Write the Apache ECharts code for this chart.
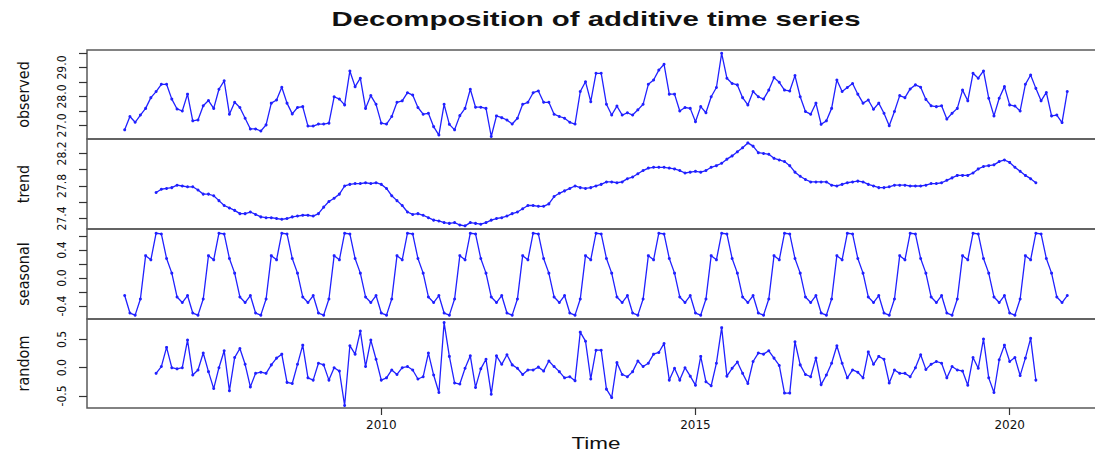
<!DOCTYPE html>
<html>
<head>
<meta charset="utf-8">
<script src="https://cdn.jsdelivr.net/npm/echarts@6/dist/echarts.min.js"></script>
<style>
  html, body { margin: 0; padding: 0; background: #ffffff; overflow: hidden; }
  #chart { width: 1115px; height: 451px; }
</style>
</head>
<body>
<div id="chart"></div>
<script>
// Monthly series: first observation and sampling frequency
const seriesStart = 2005 + 11 / 12;
const frequency = 12;

// Observed monthly values
const observed = [
  26.85, 27.31, 27.11, 27.36, 27.59, 27.96, 28.17, 28.42, 28.42, 27.91,
  27.57, 27.50, 28.08, 27.16, 27.19, 27.68, 27.86, 27.59, 28.25, 28.54,
  27.39, 27.80, 27.62, 27.25, 26.88, 26.88, 26.81, 27.02, 27.77, 27.88,
  28.32, 27.77, 27.40, 27.62, 27.65, 26.98, 26.98, 27.05, 27.05, 27.08,
  27.99, 27.91, 27.71, 28.88, 28.34, 28.63, 27.59, 28.03, 27.73, 27.08,
  27.05, 27.31, 27.80, 27.85, 28.13, 28.05, 27.62, 27.39, 27.42, 26.96,
  26.67, 27.73, 27.04, 26.85, 27.34, 27.59, 28.25, 27.63, 27.63, 27.59,
  26.62, 27.33, 27.27, 27.19, 27.05, 27.25, 27.73, 27.80, 28.13, 28.19,
  27.80, 27.80, 27.39, 27.31, 27.25, 27.11, 27.05, 28.17, 28.51, 27.82,
  28.80, 28.80, 27.73, 27.36, 27.67, 27.36, 27.44, 27.36, 27.54, 27.73,
  28.42, 28.57, 28.91, 29.11, 28.08, 28.08, 27.50, 27.62, 27.59, 27.13,
  27.65, 27.44, 27.99, 28.31, 29.49, 28.63, 28.45, 28.40, 27.96, 27.71,
  28.17, 27.99, 27.91, 28.22, 28.65, 28.49, 28.22, 28.19, 28.72, 27.99,
  27.48, 27.39, 27.77, 27.04, 27.16, 27.59, 28.57, 28.17, 28.31, 28.45,
  28.08, 27.77, 27.88, 27.56, 27.77, 27.42, 26.99, 27.48, 28.03, 27.96,
  28.26, 28.40, 28.32, 27.90, 27.68, 27.65, 27.68, 27.22, 27.42, 27.59,
  28.22, 27.85, 28.80, 28.63, 28.88, 27.94, 27.33, 27.94, 28.34, 27.71,
  27.67, 27.50, 28.42, 28.74, 28.28, 27.85, 28.14, 27.33, 27.36, 27.10,
  28.17
];

// Trend (centred 12-month moving average, undefined for the first and last 6 months)
const trend = [
  null, null, null, null, null, null,
  27.72, 27.76, 27.77, 27.78, 27.81, 27.80, 27.79, 27.79, 27.75, 27.70,
  27.70, 27.68, 27.62, 27.56, 27.53, 27.50, 27.46, 27.46, 27.48, 27.45,
  27.42, 27.41, 27.41, 27.40, 27.39, 27.40, 27.42, 27.43, 27.44, 27.44,
  27.43, 27.46, 27.54, 27.61, 27.65, 27.70, 27.80, 27.82, 27.83, 27.83,
  27.84, 27.83, 27.84, 27.82, 27.77, 27.68, 27.62, 27.56, 27.48, 27.45,
  27.46, 27.44, 27.41, 27.38, 27.37, 27.35, 27.34, 27.35, 27.32, 27.31,
  27.35, 27.34, 27.33, 27.35, 27.38, 27.40, 27.41, 27.43, 27.46, 27.48,
  27.52, 27.56, 27.56, 27.55, 27.55, 27.58, 27.67, 27.71, 27.74, 27.77,
  27.80, 27.78, 27.77, 27.78, 27.80, 27.82, 27.85, 27.85, 27.84, 27.85,
  27.89, 27.91, 27.95, 27.99, 28.02, 28.03, 28.03, 28.03, 28.02, 28.01,
  27.99, 27.96, 27.97, 27.98, 27.97, 27.99, 28.03, 28.05, 28.08, 28.13,
  28.17, 28.22, 28.27, 28.33, 28.29, 28.21, 28.20, 28.19, 28.14, 28.12,
  28.10, 28.05, 27.97, 27.92, 27.88, 27.85, 27.85, 27.85, 27.85, 27.81,
  27.80, 27.82, 27.84, 27.85, 27.86, 27.85, 27.82, 27.80, 27.78, 27.78,
  27.79, 27.81, 27.81, 27.81, 27.80, 27.80, 27.80, 27.81, 27.83, 27.83,
  27.84, 27.87, 27.90, 27.93, 27.93, 27.93, 27.96, 28.01, 28.04, 28.05,
  28.06, 28.10, 28.12, 28.09, 28.03, 27.98, 27.93, 27.89, 27.84,
  null, null, null, null, null, null
];

// Seasonal figure: one value per month of the cycle, starting at the first observation
const seasonalFigure = [-0.25, -0.50, -0.53, -0.30, 0.32, 0.26, 0.64, 0.63, 0.28, 0.07, -0.27, -0.35];

// Remainder after trend and seasonal effect
const random = [
  null, null, null, null, null, null,
  -0.10, 0.02, 0.36, 0.00, -0.02, 0.00, 0.49, -0.13, -0.04, 0.26,
  -0.07, -0.37, 0.00, 0.30, -0.41, 0.18, 0.34, 0.06, -0.34, -0.10,
  -0.08, -0.10, 0.05, 0.17, 0.24, -0.26, -0.28, 0.06, 0.40, -0.18,
  -0.22, 0.08, 0.05, -0.22, 0.00, -0.06, -0.67, 0.39, 0.24, 0.65,
  0.02, 0.49, 0.15, -0.22, -0.18, -0.04, -0.12, 0.00, 0.02, -0.04,
  -0.20, -0.16, 0.26, -0.13, -0.44, 0.80, 0.20, -0.27, -0.29, -0.01,
  0.21, -0.35, -0.02, 0.15, -0.47, 0.21, 0.06, 0.23, 0.05, -0.01,
  -0.12, -0.04, -0.04, 0.01, -0.06, 0.12, 0.02, -0.07, -0.18, -0.16,
  -0.23, 0.63, 0.47, -0.20, 0.31, 0.31, -0.38, -0.53, 0.09, -0.12,
  -0.16, -0.07, 0.12, 0.02, 0.08, 0.24, 0.27, 0.43, -0.22, -0.01,
  -0.22, 0.00, -0.15, -0.31, 0.20, -0.25, -0.32, 0.08, 0.71, -0.15,
  -0.01, 0.10, -0.10, -0.28, 0.11, 0.26, 0.24, 0.30, 0.17, 0.04,
  -0.45, -0.45, 0.46, 0.05, -0.12, -0.16, 0.17, -0.30, -0.13, 0.08,
  0.39, 0.08, -0.18, -0.04, -0.08, -0.18, 0.28, 0.06, 0.20, 0.15,
  -0.27, -0.04, -0.10, -0.10, -0.16, 0.00, 0.23, -0.03, 0.06, 0.11,
  0.08, -0.18, 0.02, -0.04, -0.06, -0.31, 0.18, -0.01, 0.51, -0.18,
  -0.44, 0.14, 0.40, 0.11, 0.18, -0.14, 0.17, 0.52, -0.22,
  null, null, null, null, null, null
];

// Panel names and axis ticks
const panelNames = ['observed', 'trend', 'seasonal', 'random'];
const panelTicks = [
  [27.0, 27.5, 28.0, 28.5, 29.0, 29.5],
  [27.4, 27.6, 27.8, 28.0, 28.2],
  [-0.4, -0.2, 0.0, 0.2, 0.4, 0.6],
  [-0.5, 0.0, 0.5]
];
const panelLabels = [
  [27.0, 28.0, 29.0],
  [27.4, 27.8, 28.2],
  [-0.4, 0.0, 0.4],
  [-0.5, 0.0, 0.5]
];
const yearTicks = [2010, 2015, 2020];

// ---- layout ----
const timeOf = i => seriesStart + i / frequency;
const seasonal = observed.map((_, i) => seasonalFigure[i % frequency]);
const components = [observed, trend, seasonal, random];

const plotLeft = 87;
const plotWidth = 1018;          // the right side of the frame runs past the visible page edge
const panelTop = [50, 139, 229, 319];
const panelHeight = [89, 90, 90, 89];
const panelRange = [
  [26.534, 29.603],
  [27.271, 28.378],
  [-0.585, 0.7007],
  [-0.7145, 0.8635]
];
const timeMin = 2005.317, timeMax = 2021.517;

const lineBlue = '#2020ff';
const frameColor = '#5a5a5a';
const narrowFont = '"Liberation Sans Narrow", "DejaVu Sans Condensed", "Arial Narrow", "Liberation Sans", Arial, sans-serif';

const grids = panelTop.map((top, k) => ({
  left: plotLeft, width: plotWidth, top: top, height: panelHeight[k],
  show: true, borderColor: frameColor, borderWidth: 1.5, backgroundColor: 'transparent'
}));

const xAxes = panelTop.map((_, k) => {
  const last = k === panelTop.length - 1;
  return {
    type: 'value', gridIndex: k, min: timeMin, max: timeMax, position: 'bottom',
    axisLine: { show: false, onZero: false },
    splitLine: { show: false },
    axisTick: { show: last, length: 7, lineStyle: { color: '#333', width: 1.2 }, customValues: yearTicks },
    axisLabel: {
      show: last, customValues: yearTicks, margin: 11,
      color: '#111', fontSize: 12, fontFamily: '"DejaVu Sans", Arial, sans-serif',
      formatter: v => String(Math.round(v))
    }
  };
});

const yAxes = panelNames.map((name, k) => ({
  type: 'value', gridIndex: k,
  min: panelRange[k][0], max: panelRange[k][1],
  name: name, nameLocation: 'middle', nameRotate: 90, nameGap: 56,
  nameTextStyle: { fontSize: 16, color: '#111', fontFamily: narrowFont },
  axisLine: { show: false, onZero: false },
  splitLine: { show: false },
  axisTick: { show: true, length: 8, lineStyle: { color: '#333', width: 1.2 }, customValues: panelTicks[k] },
  axisLabel: {
    customValues: panelLabels[k], rotate: 90, margin: 19,
    fontSize: 12, color: '#111', fontFamily: narrowFont,
    formatter: v => Number(v).toFixed(1)
  }
}));

const series = components.map((values, k) => ({
  type: 'line', xAxisIndex: k, yAxisIndex: k,
  data: values.map((v, i) => [timeOf(i), v]),
  symbol: 'circle', symbolSize: 3, showSymbol: true,
  connectNulls: false, silent: true, animation: false,
  lineStyle: { color: lineBlue, width: 1.3 },
  itemStyle: { color: lineBlue }
}));

const chart = echarts.init(document.getElementById('chart'), null, { renderer: 'svg' });
chart.setOption({
  backgroundColor: '#ffffff',
  animation: false,
  grid: grids,
  xAxis: xAxes,
  yAxis: yAxes,
  series: series,
  graphic: [
    {
      type: 'text', x: 596, y: 19, scaleX: 1.4,
      style: {
        text: 'Decomposition of additive time series',
        font: 'bold 21px "Liberation Sans", Arial, sans-serif',
        fill: '#111', align: 'center', verticalAlign: 'middle'
      }
    },
    {
      type: 'text', x: 596, y: 443, scaleX: 1.32,
      style: {
        text: 'Time',
        font: '17px "Liberation Sans", Arial, sans-serif',
        fill: '#111', align: 'center', verticalAlign: 'middle'
      }
    }
  ]
});
</script>
</body>
</html>
